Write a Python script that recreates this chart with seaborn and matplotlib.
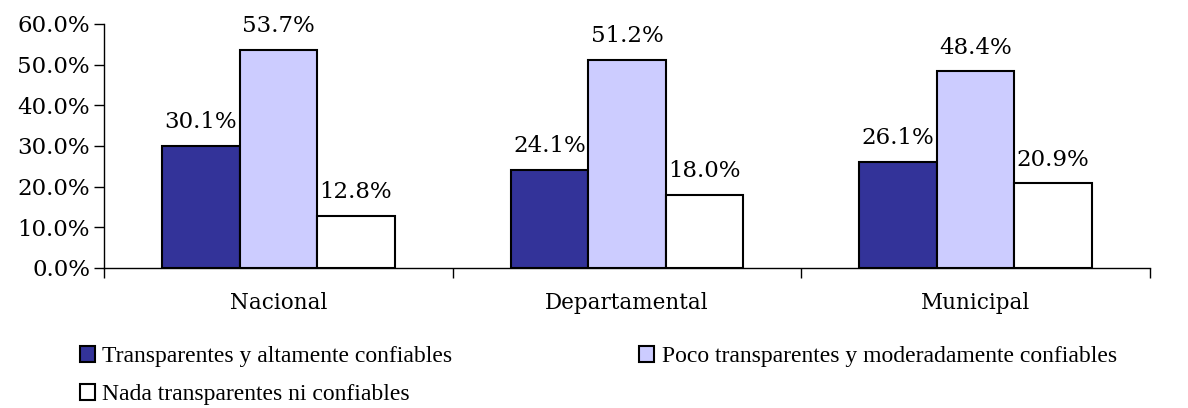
import pandas as pd
import numpy as np
import matplotlib.pyplot as plt
import seaborn as sns
from matplotlib.ticker import FuncFormatter, FixedLocator

# data
categories = ["Nacional", "Departamental", "Municipal"]
series = [
    "Transparentes y altamente confiables",
    "Poco transparentes y moderadamente confiables",
    "Nada transparentes ni confiables",
]
transparentes = [30.1, 24.1, 26.1]
poco = [53.7, 51.2, 48.4]
nada = [12.8, 18.0, 20.9]
colors = ["#333399", "#CCCCFF", "#FFFFFF"]

df = pd.DataFrame({
    "Nivel": categories * 3,
    "Serie": [series[0]] * 3 + [series[1]] * 3 + [series[2]] * 3,
    "Valor": transparentes + poco + nada,
})

sns.set_style("white")
plt.rcParams["font.family"] = ["DejaVu Serif"]
plt.rcParams["text.color"] = "black"
plt.rcParams["xtick.color"] = "black"
plt.rcParams["ytick.color"] = "black"

fig = plt.figure(figsize=(11.88, 4.08), dpi=100)
ax = fig.add_axes([104 / 1188, 1 - 268 / 408, (1150 - 104) / 1188, (268 - 24) / 408])

sns.barplot(data=df, x="Nivel", y="Valor", hue="Serie", order=categories,
            hue_order=series, palette=colors, width=0.667, saturation=1,
            edgecolor="black", linewidth=1.5, ax=ax, legend=True)

for cont in ax.containers:
    ax.bar_label(cont, fmt="%.1f%%", padding=9, fontsize=16.5, color="black")

ax.set_ylim(0, 60)
ax.set_xlim(-0.5, 2.5)
ax.set_yticks(np.arange(0, 61, 10))
ax.yaxis.set_major_formatter(FuncFormatter(lambda v, p: f"{v:.1f}%"))
ax.tick_params(axis="y", direction="out", length=7, width=1,
               labelsize=16.5, left=True, pad=3)
ax.tick_params(axis="x", which="major", length=0, labelsize=15.5, pad=17)
ax.xaxis.set_minor_locator(FixedLocator([-0.5, 0.5, 1.5, 2.5]))
ax.tick_params(axis="x", which="minor", direction="out", length=7, width=1,
               bottom=True)
ax.set_xlabel("")
ax.set_ylabel("")
for s in ["top", "right"]:
    ax.spines[s].set_visible(False)
for s in ["left", "bottom"]:
    ax.spines[s].set_color("black")
    ax.spines[s].set_linewidth(1)

handles, labels = ax.get_legend_handles_labels()
ax.get_legend().remove()
order = [0, 2, 1]
fig.legend([handles[i] for i in order], [labels[i] for i in order],
           loc="upper left", bbox_to_anchor=(80 / 1188, 1 - 346 / 408),
           ncol=2, frameon=False, borderpad=0, borderaxespad=0,
           handlelength=0.65, handleheight=0.65, handletextpad=0.3,
           labelspacing=0.72, columnspacing=7.9,
           prop={"family": "Liberation Serif", "size": 17})

plt.savefig("out.png", dpi=100)
